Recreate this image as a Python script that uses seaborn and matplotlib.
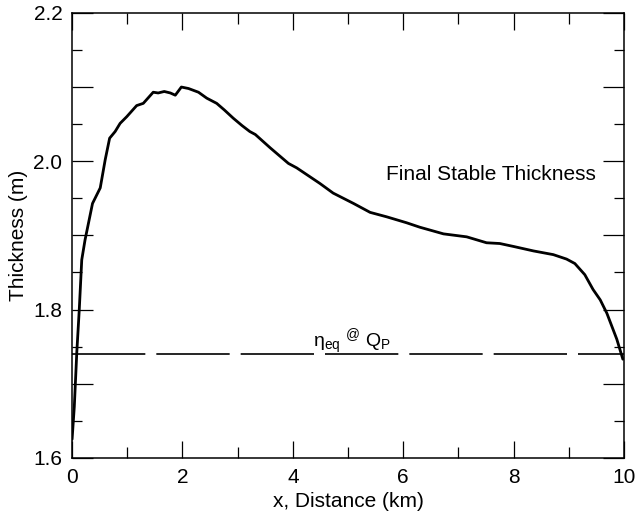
import numpy as np
import pandas as pd
import matplotlib
matplotlib.use('Agg')
import matplotlib.pyplot as plt
from matplotlib.ticker import MultipleLocator
import seaborn as sns

# curve (km, m)
distance_km = [0.00, 0.04, 0.085, 0.13, 0.175, 0.235, 0.37, 0.51, 0.60, 0.68,
               0.78, 0.87, 0.99, 1.17, 1.29, 1.47, 1.56, 1.67, 1.78, 1.87,
               1.98, 2.11, 2.29, 2.44, 2.62, 2.76, 2.92, 3.08, 3.22, 3.32,
               3.59, 3.92, 4.07, 4.49, 4.73, 5.10, 5.40, 5.70, 6.06, 6.30,
               6.73, 7.15, 7.51, 7.75, 8.00, 8.36, 8.72, 8.96, 9.11, 9.29,
               9.44, 9.57, 9.69, 9.87, 9.98]
thickness_m = [1.625, 1.669, 1.742, 1.800, 1.867, 1.894, 1.943, 1.964, 2.002, 2.031,
               2.040, 2.051, 2.060, 2.075, 2.078, 2.093, 2.092, 2.094, 2.092, 2.089,
               2.100, 2.098, 2.093, 2.085, 2.078, 2.069, 2.058, 2.048, 2.040, 2.036,
               2.018, 1.997, 1.991, 1.970, 1.957, 1.943, 1.931, 1.925, 1.917, 1.911,
               1.902, 1.898, 1.890, 1.889, 1.885, 1.879, 1.874, 1.868, 1.862, 1.847,
               1.827, 1.813, 1.795, 1.760, 1.733]
eq_level = 1.74

x_ticks = [0, 2, 4, 6, 8, 10]
x_labels = ['0', '2', '4', '6', '8', '10']
y_ticks = [1.6, 1.7, 1.8, 1.9, 2.0, 2.1, 2.2]
y_labels = ['1.6', '', '1.8', '', '2.0', '', '2.2']

df = pd.DataFrame({'x': distance_km, 'h': thickness_m})

sns.set_theme(style='ticks')
plt.rcParams['font.family'] = ['Liberation Sans', 'DejaVu Sans']
plt.rcParams['text.color'] = 'black'
plt.rcParams['mathtext.fontset'] = 'custom'
plt.rcParams['mathtext.rm'] = 'Liberation Sans'
plt.rcParams['mathtext.it'] = 'Liberation Sans:italic'

fig = plt.figure(figsize=(6.38, 5.15), dpi=100)
ax = fig.add_axes([0.113, 0.111, 0.865, 0.864])

sns.lineplot(data=df, x='x', y='h', ax=ax, color='black', linewidth=2.0,
             estimator=None, sort=False)
ax.axhline(eq_level, color='black', linewidth=1.2, dashes=(44, 6.6))

ax.set_xlim(0, 10)
ax.set_ylim(1.6, 2.2)
ax.set_xticks(x_ticks, x_labels)
ax.set_yticks(y_ticks, y_labels)
ax.xaxis.set_minor_locator(MultipleLocator(1))
ax.yaxis.set_minor_locator(MultipleLocator(0.05))

for s in ax.spines.values():
    s.set_linewidth(1.1)
    s.set_color('black')
ax.tick_params(axis='both', which='both', direction='in', top=True, right=True,
               width=0.9, color='black', labelsize=15, labelcolor='black')
ax.tick_params(axis='x', which='major', length=12, pad=7)
ax.tick_params(axis='x', which='minor', length=8)
ax.tick_params(axis='y', which='major', length=15, pad=7)
ax.tick_params(axis='y', which='minor', length=7)

ax.set_xlabel('x, Distance (km)', fontsize=15, color='black', labelpad=4)
ax.set_ylabel('Thickness (m)', fontsize=15, color='black', labelpad=4)

ax.text(5.69, 1.982, 'Final Stable Thickness', fontsize=15, va='center',
        ha='left', color='black')
ax.text(4.37, 1.749, r'$\mathrm{\eta}_{\rm eq}$ $^{@}$ Q$_{\rm P}$', fontsize=14,
        va='baseline', ha='left', color='black')

fig.savefig('out.png', dpi=100)
